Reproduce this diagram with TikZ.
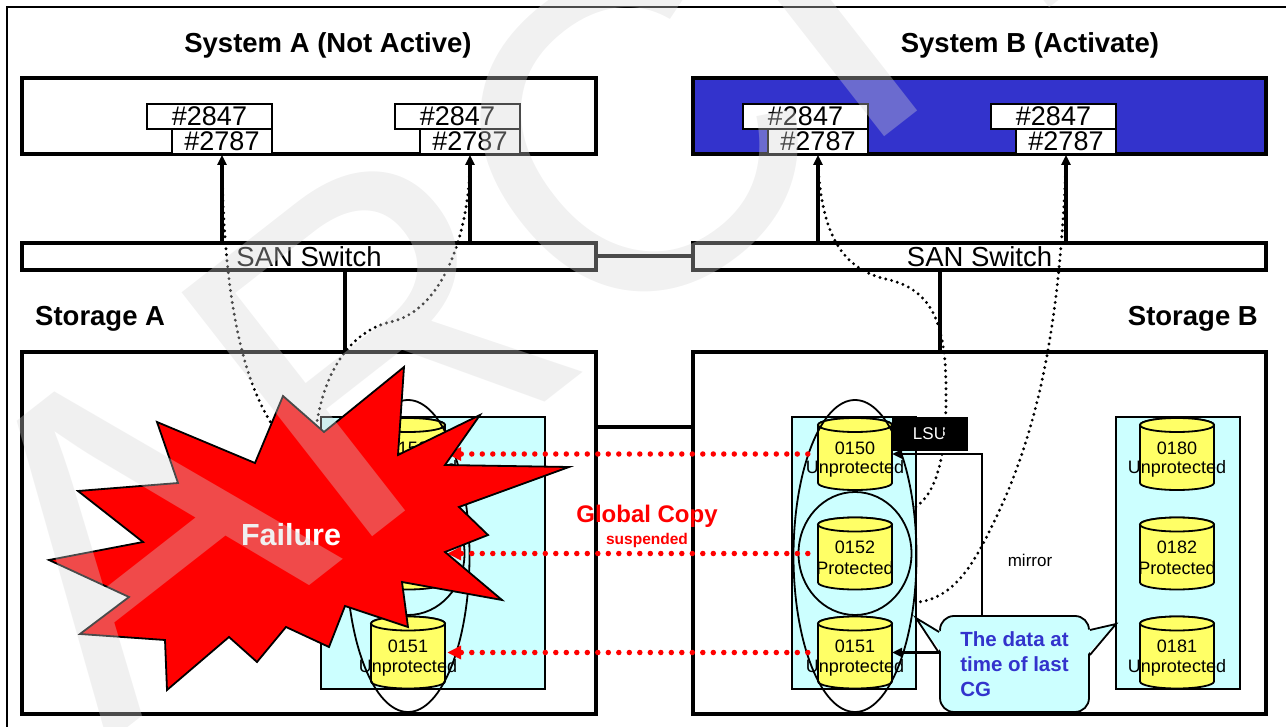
\documentclass[tikz,border=0pt]{standalone}
\usepackage{fontspec}
\setmainfont{Liberation Sans}
\usetikzlibrary{arrows.meta,shapes.geometric}

\definecolor{hostblue}{RGB}{51,51,204}
\definecolor{poolcyan}{RGB}{204,255,255}
\definecolor{diskyellow}{RGB}{255,255,102}
\definecolor{copyred}{RGB}{255,0,0}
\definecolor{markgray}{RGB}{214,214,214}
\newcommand\pxfont[1]{\fontsize{#1}{#1}\selectfont}

\tikzset{
  frame/.style={draw=black, line width=4pt, inner sep=0pt, outer sep=0pt},
  port/.style={draw=black, fill=white, line width=1.8pt, inner sep=0pt,
    minimum height=25, font=\pxfont{27}},
  title/.style={inner sep=0pt, font=\bfseries\pxfont{27.5}},
  uplink/.style={draw=black, line width=4pt,
    -{Triangle[length=10pt,width=9pt]}},
  link/.style={draw=black, line width=4pt},
  pool/.style={draw=black, fill=poolcyan, line width=1.8pt, inner sep=0pt},
  ring/.style={draw=black, ellipse, line width=1.8pt, inner sep=0pt},
  disktext/.style={inner sep=0pt, font=\pxfont{18}},
  mirrorline/.style={draw=black, line width=2.8pt,
    -{Triangle[length=10pt,width=9pt]}},
  gcopy/.style={draw=copyred, line width=5.5pt, line cap=round,
    dash pattern=on 0pt off 10.5pt,
    -{Triangle[length=14pt,width=13pt]}},
  hostpath/.style={draw=black, line width=3.2pt, line cap=round,
    dash pattern=on 0pt off 6pt},
  burst/.style={fill=copyred, draw=black, line width=1.8pt, line join=miter},
  pics/disk/.style 2 args={code={
    \path[draw=black, line width=1.8pt, fill=diskyellow]
      (-37,-29) -- (-37,29)
      arc[start angle=180, end angle=0, x radius=37, y radius=7]
      -- (37,-29)
      arc[start angle=0, end angle=-180, x radius=37, y radius=7] -- cycle;
    \path[draw=black, line width=1.8pt, fill=diskyellow]
      (0,-29) ellipse[x radius=37, y radius=7];
    \node[inner sep=0pt, minimum width=74, minimum height=72] (-body) at (0,0) {};
    \node[disktext] at (0,-6) {#1};
    \node[disktext] at (0,15) {#2};
  }}
}

\begin{document}
\begin{tikzpicture}[x=1pt, y=-1pt]
\useasboundingbox (0,0) rectangle (1286,727);

% page frame
\draw[line width=1.5pt] (7,727) -- (7,7) -- (1286,7);

% titles
\node[title, anchor=base] (titleA) at (328,53) {System A (Not Active)};
\node[title, anchor=base] (titleB) at (1030,53) {System B (Activate)};
\node[title, anchor=base west] (labelA) at (35,326) {Storage A};
\node[title, anchor=base east] (labelB) at (1258,326) {Storage B};

% host systems
\node[frame, fill=white, minimum width=574, minimum height=76] (hostA) at (309,116) {};
\node[frame, fill=hostblue, minimum width=573, minimum height=76] (hostB) at (979.5,116) {};

% host ports
\node[port, minimum width=125] (A1top) at (209.5,116.5) {\#2847};
\node[port, minimum width=100] (A1bot) at (222,141.5) {\#2787};
\node[port, minimum width=125] (A2top) at (457.5,116.5) {\#2847};
\node[port, minimum width=100] (A2bot) at (470,141.5) {\#2787};
\node[port, minimum width=125] (B1top) at (805.5,116.5) {\#2847};
\node[port, minimum width=100] (B1bot) at (818,141.5) {\#2787};
\node[port, minimum width=125] (B2top) at (1053.5,116.5) {\#2847};
\node[port, minimum width=100] (B2bot) at (1066,141.5) {\#2787};

% SAN switches
\node[frame, fill=white, minimum width=574, minimum height=27, font=\pxfont{27.5}] (swA) at (309,256.5) {SAN Switch};
\node[frame, fill=white, minimum width=573, minimum height=27, font=\pxfont{27.5}] (swB) at (979.5,256.5) {SAN Switch};

% storage units
\node[frame, fill=white, minimum width=574, minimum height=362] (stA) at (309,533) {};
\node[frame, fill=white, minimum width=573, minimum height=362] (stB) at (979.5,533) {};

% fabric links
\draw[uplink] (swA.north -| A1bot) -- (A1bot.south);
\draw[uplink] (swA.north -| A2bot) -- (A2bot.south);
\draw[uplink] (swB.north -| B1bot) -- (B1bot.south);
\draw[uplink] (swB.north -| B2bot) -- (B2bot.south);
\draw[link] (swA.east) -- (swB.west);
\draw[link] ([xshift=36pt]swA.south) -- ([xshift=36pt]stA.north);
\draw[link] ([xshift=-39.5pt]swB.south) -- ([xshift=-39.5pt]stB.north);
\draw[link] ([yshift=106pt]stA.east) -- ([yshift=106pt]stB.west);

% volume pools
\node[pool, minimum width=224, minimum height=272] (poolA) at (433,553) {};
\node[pool, minimum width=124, minimum height=272] (poolB1) at (854,553) {};
\node[pool, minimum width=124, minimum height=272] (poolB2) at (1178,553) {};

% volumes
\pic (dA0) at (408,454) {disk={0150}{Unprotected}};
\pic (dA1) at (408,553.5) {disk={0152}{Protected}};
\pic (dA2) at (408,652.5) {disk={0151}{Unprotected}};
\pic (dB0) at (855,454) {disk={0150}{Unprotected}};
\pic (dB1) at (855,553.5) {disk={0152}{Protected}};
\pic (dB2) at (855,652.5) {disk={0151}{Unprotected}};
\pic (dC0) at (1177,454) {disk={0180}{Unprotected}};
\pic (dC1) at (1177,553.5) {disk={0182}{Protected}};
\pic (dC2) at (1177,652.5) {disk={0181}{Unprotected}};

% volume groups
\node[ring, minimum width=123, minimum height=312] (grpA) at (408,556) {};
\node[ring, minimum width=113, minimum height=123] (midA) at (408,553.5) {};
\node[ring, minimum width=123, minimum height=312] (grpB) at (855,556) {};
\node[ring, minimum width=113, minimum height=123] (midB) at (855,553.5) {};

% LSU tag
\node[fill=black, minimum width=76, minimum height=34, inner sep=0pt,
      text=white, font=\pxfont{17}] (lsu) at (929.5,434) {LSU};

% callout with its two pointers
\node[draw=black, fill=poolcyan, line width=1.8pt, rounded corners=14pt,
      minimum width=149, minimum height=96, inner sep=0pt, align=left,
      text=hostblue, font=\bfseries\fontsize{20.5}{25}\selectfont]
      (note) at (1014.5,664) {The data at\\time of last\\CG};
\coordinate (tipR) at (1116,624);
\coordinate (tipL) at (916,618);
\fill[poolcyan] ([xshift=-3pt,yshift=34pt]note.east) -- (tipR) -- ([xshift=-3pt,yshift=9pt]note.east) -- cycle;
\draw[line width=1.8pt, line join=miter] ([yshift=34pt]note.east) -- (tipR) -- ([yshift=9pt]note.east);
\fill[poolcyan] ([xshift=3pt,yshift=32pt]note.west) -- (tipL) -- ([xshift=3pt,yshift=11pt]note.west) -- cycle;
\draw[line width=1.8pt, line join=miter] ([yshift=32pt]note.west) -- (tipL) -- ([yshift=11pt]note.west);

% mirror connectors
\draw[mirrorline] ([xshift=-32.5pt]note.north) |- (dB0-body.east);
\draw[mirrorline] (note.west |- dB2-body.east) -- (dB2-body.east);
\node[inner sep=0pt, font=\pxfont{17}] (mirrorlabel) at (1030,560) {mirror};

% Global Copy pairs
\draw[gcopy] ([xshift=-10pt]dB0-body.west) -- ([xshift=2pt]dA0-body.east);
\draw[gcopy] ([xshift=-10pt]dB1-body.west) -- ([xshift=2pt]dA1-body.east);
\draw[gcopy] ([xshift=-10pt]dB2-body.west) -- ([xshift=2pt]dA2-body.east);
\node[inner sep=0pt, anchor=base, text=copyred, font=\bfseries\pxfont{24}] (gclabel) at (647,522) {Global Copy};
\node[inner sep=0pt, anchor=base, text=copyred, font=\bfseries\pxfont{15.5}] (gcstate) at (647,544) {suspended};

% host access paths
\coordinate (endA1) at (277,432);
\coordinate (endA2) at (315,436);
\draw[hostpath] ([yshift=-10pt]A1bot.south) .. controls (224,290) and (240,380) .. (endA1);
\draw[hostpath] ([yshift=-10pt]A2bot.south) .. controls (468,240) and (440,312) .. (390,322)
  .. controls (350,332) and (322,372) .. (endA2);
\draw[hostpath] ([yshift=-10pt]B1bot.south) .. controls (822,232) and (840,270) .. (890,280)
  .. controls (936,292) and (947,330) .. (946,400)
  .. controls (946,460) and (935,495) .. (grpB.39);
\draw[hostpath] ([yshift=-10pt]B2bot.south) .. controls (1060,300) and (1046,420) .. (990,530)
  .. controls (966,580) and (945,600) .. (grpB.-38);

% failure burst over storage A
\draw[burst] (49,560) -- (143,542) -- (78,491) -- (178,483) -- (157,422)
  -- (255,463) -- (283,396) -- (324,432) -- (404,367) -- (398,455)
  -- (480,415) -- (445,465) -- (569,467) -- (459,507) -- (488,535)
  -- (445,552) -- (502,600) -- (402,582) -- (408,627) -- (345,606)
  -- (329,647) -- (286,627) -- (257,662) -- (229,637) -- (167,690)
  -- (165,640) -- (80,634) -- (129,597) -- cycle;
\node[inner sep=0pt, anchor=base, text=white, font=\bfseries\pxfont{30.5}] (failure) at (291,545) {Failure};

% watermark
\node[inner sep=0pt, rotate=38, anchor=base west, text=markgray, text opacity=0.35,
      font=\pxfont{450}] (mark) at (107,744) {ARCHIVED};
\end{tikzpicture}
\end{document}
